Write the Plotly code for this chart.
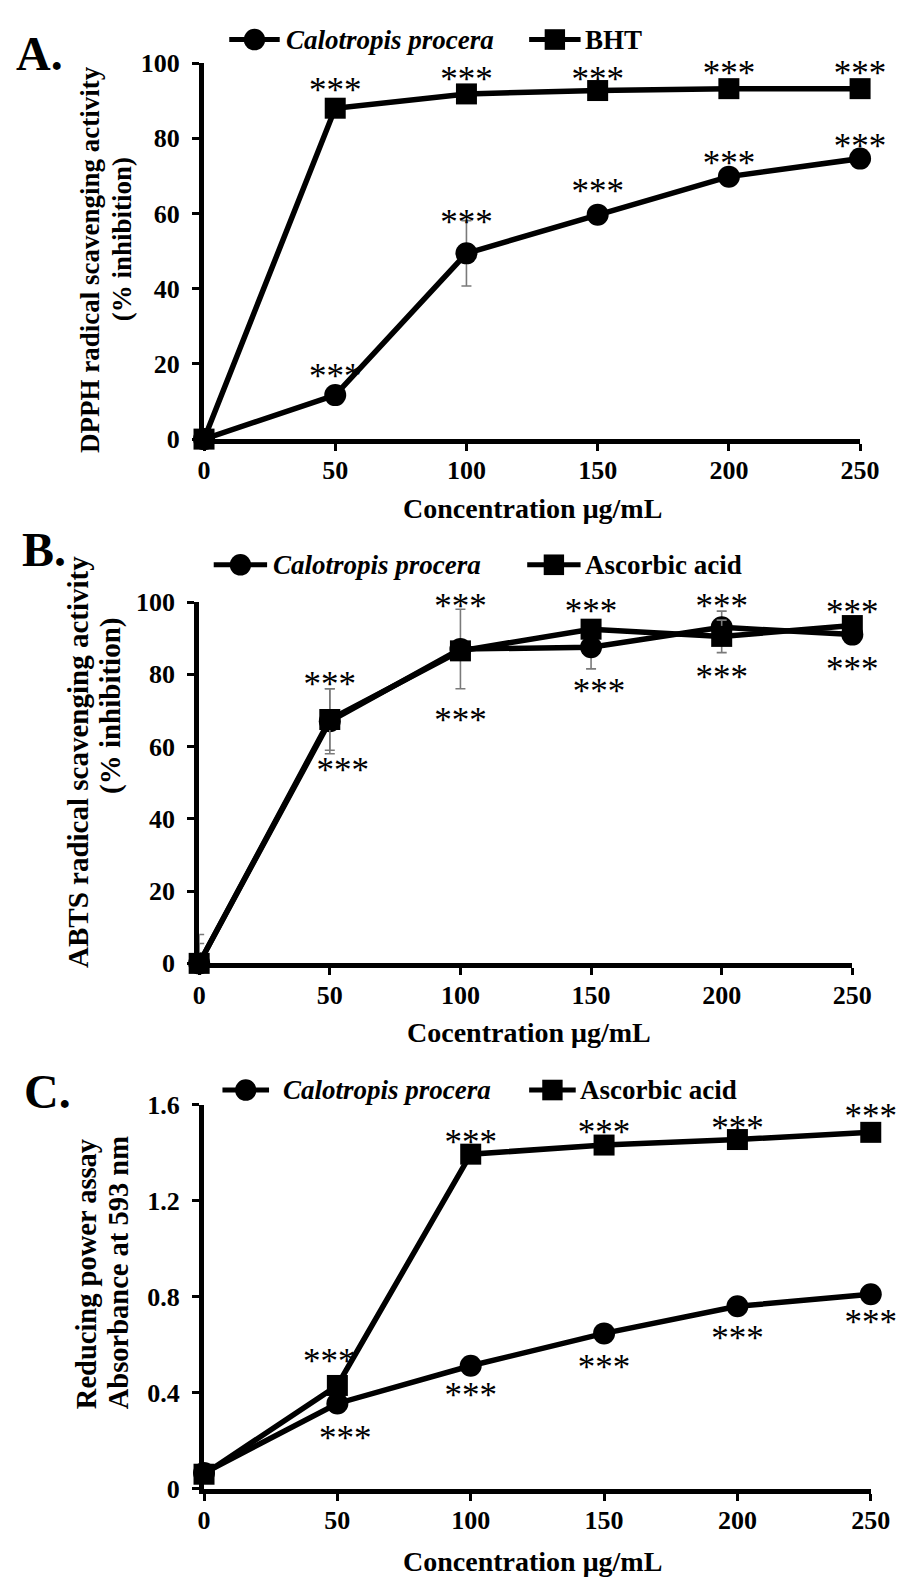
import plotly.graph_objects as go

# ---------------- data ----------------
concentrations = [0, 50, 100, 150, 200, 250]
x_tick_vals = [0, 50, 100, 150, 200, 250]
x_tick_text = ["0", "50", "100", "150", "200", "250"]

# Panel A: DPPH
a_names = ["Calotropis procera", "BHT"]
dpph_calotropis = [0, 11.7, 49.4, 59.7, 69.8, 74.6]
dpph_calotropis_err = [0.5, 2.0, 8.7, 1.2, 2.0, 1.0]
dpph_bht = [0, 88.0, 91.8, 92.7, 93.2, 93.2]
dpph_bht_err = [0.3, 0.5, 0.5, 0.5, 0.5, 0.5]
dpph_bht_star_x = [50, 100, 150, 200, 250]
dpph_bht_star_y = [92, 95, 95, 96.5, 96.5]
dpph_cal_star_x = [50, 100, 150, 200, 250]
dpph_cal_star_y = [16, 57, 65, 72.5, 77]
a_y_ticks = [0, 20, 40, 60, 80, 100]

# Panel B: ABTS
b_names = ["Calotropis procera", "Ascorbic acid"]
abts_calotropis = [0, 67.0, 87.0, 87.5, 93.0, 91.0]
abts_calotropis_err = [8.0, 9.0, 11.0, 6.0, 4.5, 1.0]
abts_ascorbic = [0, 67.5, 86.5, 92.5, 90.5, 93.5]
abts_ascorbic_err = [5.5, 8.5, 1.0, 1.0, 4.5, 1.0]
abts_above_star_x = [50, 100, 150, 200, 250]
abts_above_star_y = [76.5, 98, 96.5, 98, 96.3]
abts_below_star_x = [55, 100, 153, 200, 250]
abts_below_star_y = [52.5, 66.5, 74.5, 78.5, 80.5]
b_y_ticks = [0, 20, 40, 60, 80, 100]

# Panel C: reducing power
c_names = ["Calotropis procera", "Ascorbic acid"]
frap_calotropis = [0.065, 0.355, 0.512, 0.647, 0.76, 0.81]
frap_ascorbic = [0.06, 0.43, 1.394, 1.432, 1.455, 1.485]
frap_asc_star_x = [47, 100, 150, 200, 250]
frap_asc_star_y = [0.52, 1.432, 1.471, 1.488, 1.54]
frap_cal_star_x = [53, 100, 150, 200, 250]
frap_cal_star_y = [0.199, 0.376, 0.493, 0.615, 0.682]
c_y_ticks = [0, 0.4, 0.8, 1.2, 1.6]
c_y_tick_text = ["0", "0.4", "0.8", "1.2", "1.6"]

# ---------------- figure ----------------
W, H = 916, 1591
SERIF = "Liberation Serif"


def fx(px):
    return px / W


def fy(py):
    return 1 - py / H


fig = go.Figure()


def add_series(xa, ya, y, err, symbol, name, size):
    if err is not None:
        fig.add_trace(go.Scatter(
            x=concentrations, y=y, mode="markers", xaxis=xa, yaxis=ya,
            marker=dict(size=1, color="rgba(0,0,0,0)"),
            error_y=dict(type="data", array=err, color="#7a7a7a",
                         thickness=1.6, width=5),
            showlegend=False, hoverinfo="skip", cliponaxis=True))
    fig.add_trace(go.Scatter(
        x=concentrations, y=y, mode="lines+markers", name=name,
        xaxis=xa, yaxis=ya,
        line=dict(color="black", width=5.5),
        marker=dict(symbol=symbol, size=size, color="black",
                    line=dict(color="black", width=0)),
        showlegend=False, cliponaxis=False))


def add_stars(xa, ya, xs, ys):
    fig.add_trace(go.Scatter(
        x=xs, y=ys, mode="text", text=["***"] * len(xs),
        textposition="middle center", xaxis=xa, yaxis=ya,
        textfont=dict(family=SERIF, size=35, color="black"),
        showlegend=False, hoverinfo="skip", cliponaxis=False))


# Panel A
add_series("x", "y", dpph_calotropis, dpph_calotropis_err, "circle", a_names[0], 22)
add_series("x", "y", dpph_bht, dpph_bht_err, "square", a_names[1], 21)
add_stars("x", "y", dpph_bht_star_x, dpph_bht_star_y)
add_stars("x", "y", dpph_cal_star_x, dpph_cal_star_y)

# Panel B
add_series("x2", "y2", abts_calotropis, abts_calotropis_err, "circle", b_names[0], 22)
add_series("x2", "y2", abts_ascorbic, abts_ascorbic_err, "square", b_names[1], 21)
add_stars("x2", "y2", abts_above_star_x, abts_above_star_y)
add_stars("x2", "y2", abts_below_star_x, abts_below_star_y)

# Panel C
add_series("x3", "y3", frap_calotropis, None, "circle", c_names[0], 22)
add_series("x3", "y3", frap_ascorbic, None, "square", c_names[1], 21)
add_stars("x3", "y3", frap_asc_star_x, frap_asc_star_y)
add_stars("x3", "y3", frap_cal_star_x, frap_cal_star_y)

tickfont = dict(family=SERIF, size=26, color="black", weight="bold")
axis_common = dict(showline=True, linecolor="black", linewidth=5,
                   ticks="outside", ticklen=7, tickwidth=3, tickcolor="black",
                   showgrid=False, zeroline=False, tickfont=tickfont,
                   fixedrange=True)

fig.update_layout(
    width=W, height=H,
    margin=dict(l=0, r=0, t=0, b=0),
    paper_bgcolor="white", plot_bgcolor="white",
    showlegend=False,
    xaxis=dict(domain=[fx(203), fx(879)], anchor="y", range=[0, 250],
               tickvals=x_tick_vals, ticktext=x_tick_text,
               ticklabelstandoff=-3, **axis_common),
    yaxis=dict(domain=[fy(433), fy(50)], anchor="x", range=[0, 100],
               tickvals=a_y_ticks, ticklabelstandoff=7, **axis_common),
    xaxis2=dict(domain=[fx(198), fx(871)], anchor="y2", range=[0, 250],
                tickvals=x_tick_vals, ticktext=x_tick_text,
                ticklabelstandoff=-3, **axis_common),
    yaxis2=dict(domain=[fy(967), fy(599)], anchor="x2", range=[0, 100],
                tickvals=b_y_ticks, ticklabelstandoff=7, **axis_common),
    xaxis3=dict(domain=[fx(203), fx(890)], anchor="y3", range=[0, 250],
                tickvals=x_tick_vals, ticktext=x_tick_text,
                ticklabelstandoff=-3, **axis_common),
    yaxis3=dict(domain=[fy(1502), fy(1111)], anchor="x3", range=[0, 1.6],
                tickvals=c_y_ticks, ticktext=c_y_tick_text,
                ticklabelstandoff=7, **axis_common),
)

annotations = []


def text_ann(txt, cx, cy, size, angle=0, xanchor="center", italic=False):
    if italic:
        txt = "<i>" + txt + "</i>"
    annotations.append(dict(
        text=txt, x=fx(cx), y=fy(cy), xref="paper", yref="paper",
        xanchor=xanchor, yanchor="middle", showarrow=False,
        textangle=angle,
        font=dict(family=SERIF, size=size, color="black", weight="bold")))


# panel letters
text_ann("A.", 33, 40, 48)
text_ann("B.", 38, 545, 48)
text_ann("C.", 42, 1097, 48)

# y titles
text_ann("DPPH radical scavenging activity", 86, 250, 27, angle=-90)
text_ann("(% inhibition)", 118, 230, 27, angle=-90)
text_ann("ABTS radical scavenging activity", 73, 762, 29, angle=-90)
text_ann("(% inhibition)", 106, 705, 29, angle=-90)
text_ann("Reducing power assay", 82, 1284, 28.5, angle=-90)
text_ann("Absorbance at 593 nm", 115, 1282, 28.5, angle=-90)

# x titles
text_ann("Concentration μg/mL", 541, 504, 28)
text_ann("Cocentration μg/mL", 538, 1037, 28)
text_ann("Concentration μg/mL", 541, 1576, 28)

shapes = []


def legend_item(x0, x1, cy, symbol, label, tx, italic):
    shapes.append(dict(type="line", xref="paper", yref="paper",
                       x0=fx(x0), x1=fx(x1), y0=fy(cy), y1=fy(cy),
                       line=dict(color="black", width=5)))
    cx = (x0 + x1) / 2
    r = 11 if symbol == "circle" else 10.5
    shapes.append(dict(type="circle" if symbol == "circle" else "rect",
                       xref="paper", yref="paper",
                       x0=fx(cx - r), x1=fx(cx + r),
                       y0=fy(cy + r), y1=fy(cy - r),
                       fillcolor="black", line=dict(color="black", width=0)))
    text_ann(label, tx, cy, 27, xanchor="left", italic=italic)


legend_item(229, 281, 26, "circle", a_names[0], 285, True)
legend_item(538, 591, 26, "square", a_names[1], 594, False)
legend_item(213, 268, 561, "circle", b_names[0], 272, True)
legend_item(536, 591, 561, "square", b_names[1], 593, False)
legend_item(222, 270, 1096, "circle", c_names[0], 282, True)
legend_item(538, 586, 1096, "square", c_names[1], 588, False)

fig.update_layout(annotations=annotations, shapes=shapes)

fig.write_html("out.html")
